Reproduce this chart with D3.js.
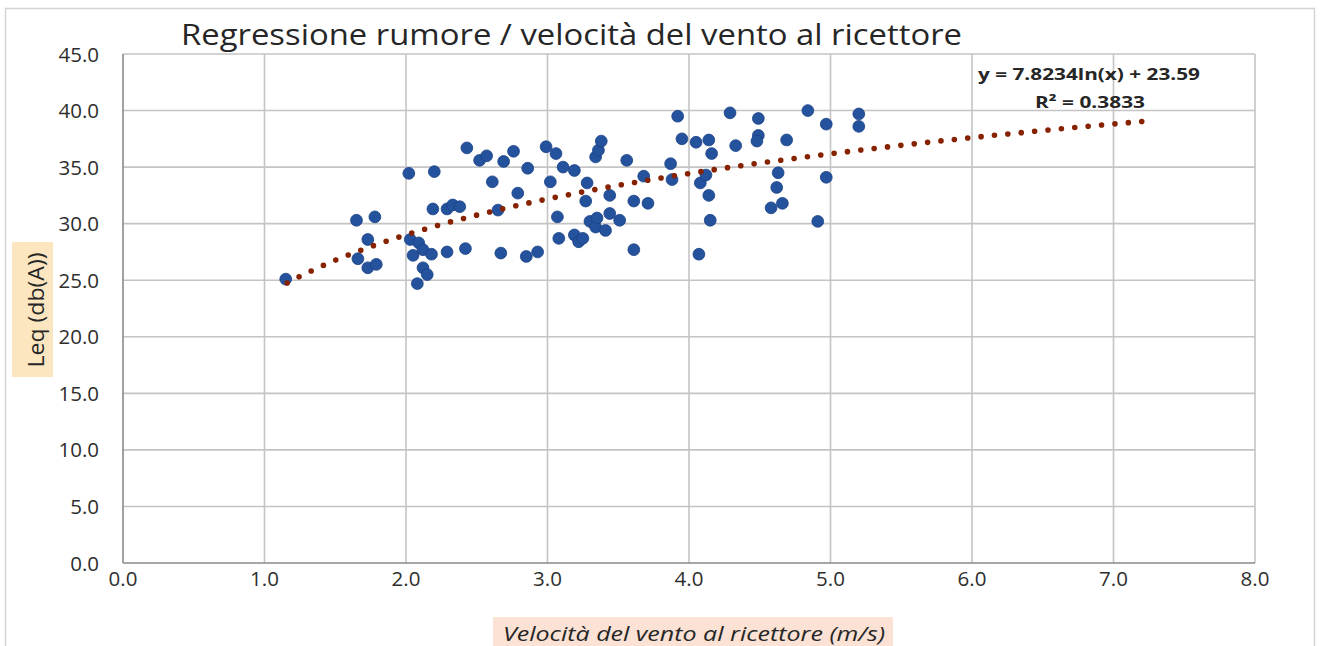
<!DOCTYPE html>
<html><head><meta charset="utf-8">
<script src="https://cdn.jsdelivr.net/npm/d3@7"></script>
<style>body{margin:0;background:#fff}svg{display:block}</style>
</head><body>
<svg id="c" width="1322" height="646"></svg>
<script>
const title = "Regressione rumore / velocità del vento al ricettore";
const xLabel = "Velocità  del vento al ricettore  (m/s)";
const yLabel = "Leq (db(A))";
const xTicks = [0,1,2,3,4,5,6,7,8];
const yTicks = [0,5,10,15,20,25,30,35,40,45];
const eqText = "y = 7.8234ln(x) + 23.59";
const r2Text = "R² = 0.3833";
const trendA = 7.8234, trendB = 23.59, trendFrom = 1.16, trendTo = 7.2;
const windSpeed = [1.15,1.65,1.66,1.73,1.73,1.79,1.78,2.02,2.20,2.03,2.09,2.05,2.12,2.18,2.12,2.15,2.08,2.19,2.29,2.33,2.38,2.29,2.42,2.43,2.52,2.57,2.61,2.65,2.67,2.69,2.76,2.79,2.86,2.85,2.93,2.99,3.06,3.02,3.07,3.08,3.11,3.19,3.19,3.22,3.25,3.27,3.28,3.30,3.34,3.35,3.41,3.44,3.51,3.34,3.36,3.38,3.44,3.56,3.61,3.61,3.68,3.71,3.87,3.88,3.92,3.95,4.05,4.14,4.16,4.08,4.12,4.14,4.15,4.07,4.29,4.33,4.49,4.49,4.48,4.69,4.63,4.62,4.58,4.66,4.84,4.97,4.97,4.91,5.20,5.20];
const leq = [25.1,30.3,26.9,28.6,26.1,26.4,30.6,34.45,34.6,28.6,28.3,27.2,27.7,27.3,26.1,25.5,24.7,31.3,31.3,31.65,31.5,27.5,27.8,36.7,35.6,36.0,33.7,31.2,27.4,35.5,36.4,32.7,34.9,27.1,27.5,36.8,36.2,33.7,30.6,28.7,35.0,34.7,29.0,28.4,28.7,32.0,33.6,30.2,29.7,30.5,29.4,30.9,30.3,35.9,36.5,37.3,32.5,35.6,32.0,27.7,34.2,31.8,35.3,33.9,39.5,37.5,37.2,37.4,36.2,33.6,34.3,32.5,30.3,27.3,39.8,36.9,39.3,37.8,37.3,37.4,34.5,33.2,31.4,31.8,40.0,38.8,34.1,30.2,39.7,38.6];

const svg = d3.select("#c");
const font = "'Open Sans', 'Noto Sans', sans-serif";
const x = d3.scaleLinear().domain([0,8]).range([123,1255]);
const y = d3.scaleLinear().domain([0,45]).range([563,54]);

// outer border
svg.append("rect").attr("x",5.5).attr("y",8.5).attr("width",1309).attr("height",660)
  .attr("fill","#fff").attr("stroke","#d4d4d4").attr("stroke-width",1.5);

// grid
const g = svg.append("g");
g.selectAll(".vg").data(xTicks.filter(d=>d>0)).join("line")
  .attr("x1",d=>x(d)).attr("x2",d=>x(d)).attr("y1",y(0)).attr("y2",y(45))
  .attr("stroke","#c4c4c4").attr("stroke-width",1.6);
g.selectAll(".hg").data(yTicks.filter(d=>d>0)).join("line")
  .attr("x1",x(0)).attr("x2",x(8)).attr("y1",d=>y(d)).attr("y2",d=>y(d))
  .attr("stroke","#c4c4c4").attr("stroke-width",1.6);
g.append("line").attr("x1",x(0)).attr("x2",x(0)).attr("y1",y(0)).attr("y2",y(45)).attr("stroke","#8a8a8a").attr("stroke-width",1.6);
g.append("line").attr("x1",x(0)).attr("x2",x(8)).attr("y1",y(0)).attr("y2",y(0)).attr("stroke","#8a8a8a").attr("stroke-width",1.6);

// tick labels
svg.selectAll(".yt").data(yTicks).join("text")
  .attr("x",99).attr("y",d=>y(d)+7.5).attr("text-anchor","end")
  .attr("font-family",font).attr("font-size",20.5).attr("fill","#2e2e2e")
  .text(d=>d.toFixed(1));
svg.selectAll(".xt").data(xTicks).join("text")
  .attr("x",d=>x(d)).attr("y",586).attr("text-anchor","middle")
  .attr("font-family",font).attr("font-size",20.5).attr("fill","#2e2e2e")
  .text(d=>d.toFixed(1));

// points
const pts = windSpeed.map((v,i)=>({x:v,y:leq[i]}));
svg.append("g").selectAll("circle").data(pts).join("circle")
  .attr("cx",d=>x(d.x)).attr("cy",d=>y(d.y)).attr("r",5.9)
  .attr("fill","#24529c").attr("stroke","#1b4185").attr("stroke-width",0.8);

// trendline
const xs = d3.range(0,201).map(i=>trendFrom + (trendTo-trendFrom)*i/200);
const line = d3.line().x(d=>x(d)).y(d=>y(trendA*Math.log(d)+trendB));
const tp = svg.append("path").datum(xs).attr("d",line).attr("fill","none")
  .attr("stroke","#862200").attr("stroke-width",5.6).attr("stroke-linecap","round");
const len = tp.node().getTotalLength();
const nDots = Math.round(len/13.5);
tp.attr("stroke-dasharray", "0 " + (len/nDots - 0.001));

// title
svg.append("text").attr("x",181).attr("y",45).attr("font-family",font).attr("font-size",29)
  .attr("fill","#262626").attr("textLength",781).attr("lengthAdjust","spacingAndGlyphs").text(title);

// equation
svg.append("text").attr("x",978).attr("y",80).attr("font-family",font).attr("font-size",16.5).attr("font-weight","bold")
  .attr("fill","#262626").attr("textLength",222).attr("lengthAdjust","spacingAndGlyphs").text(eqText);
svg.append("text").attr("x",1035).attr("y",108).attr("font-family",font).attr("font-size",16.5).attr("font-weight","bold")
  .attr("fill","#262626").attr("textLength",110).attr("lengthAdjust","spacingAndGlyphs").text(r2Text);

// y label
svg.append("rect").attr("x",12).attr("y",242).attr("width",41).attr("height",135).attr("fill","#fbe6c0");
svg.append("text").attr("transform","translate(44,310) rotate(-90)").attr("text-anchor","middle")
  .attr("font-family",font).attr("font-size",21).attr("fill","#262626")
  .attr("textLength",115).attr("lengthAdjust","spacingAndGlyphs").text(yLabel);

// x label
svg.append("rect").attr("x",493).attr("y",617).attr("width",400).attr("height",40).attr("fill","#fbe2d4");
svg.append("text").attr("x",503).attr("y",641).attr("font-family",font).attr("font-size",20).attr("font-style","italic")
  .attr("fill","#262626").attr("textLength",382).attr("lengthAdjust","spacingAndGlyphs").text(xLabel);
</script>
</body></html>
